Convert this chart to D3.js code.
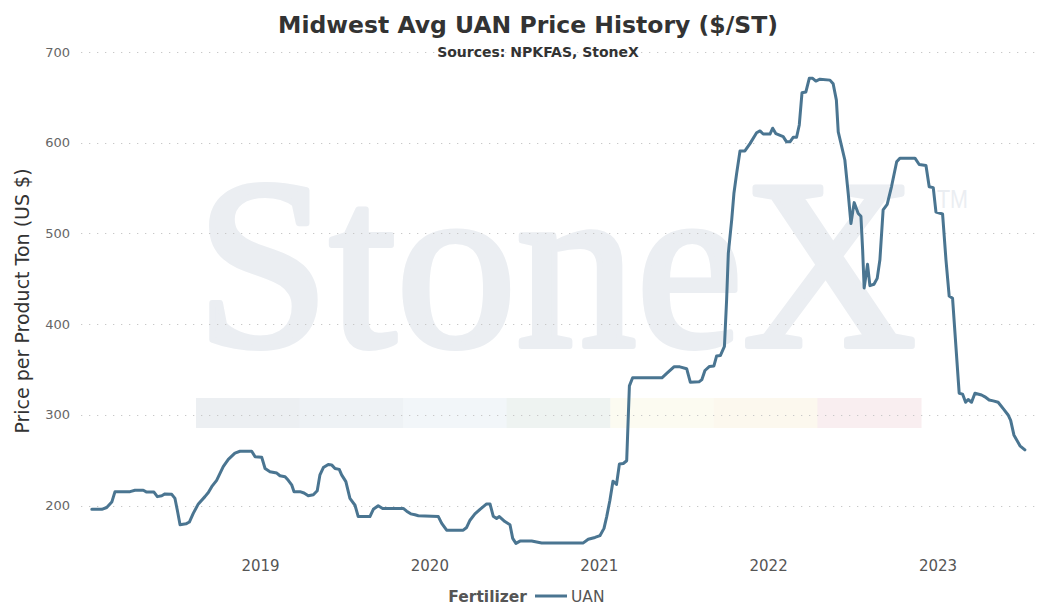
<!DOCTYPE html>
<html><head><meta charset="utf-8">
<script src="https://cdn.jsdelivr.net/npm/d3@7"></script>
<style>body{margin:0;background:#fff}svg{display:block}</style>
</head><body>
<svg id="c" width="1046" height="607"></svg>
<script>
// Time in decimal years, price in $/ST
const years = [2018.004,2018.063,2018.092,2018.122,2018.141,2018.230,2018.259,2018.308,2018.328,2018.371,2018.391,2018.417,2018.436,2018.476,2018.495,2018.509,2018.525,2018.560,2018.580,2018.603,2018.633,2018.672,2018.692,2018.712,2018.741,2018.780,2018.810,2018.849,2018.879,2018.948,2018.968,2019.007,2019.027,2019.056,2019.096,2019.115,2019.145,2019.164,2019.184,2019.198,2019.233,2019.257,2019.282,2019.312,2019.335,2019.351,2019.371,2019.400,2019.420,2019.440,2019.465,2019.479,2019.504,2019.528,2019.558,2019.577,2019.646,2019.666,2019.695,2019.721,2019.843,2019.863,2019.887,2019.912,2019.932,2020.050,2020.070,2020.099,2020.197,2020.217,2020.237,2020.266,2020.296,2020.335,2020.355,2020.374,2020.394,2020.410,2020.443,2020.473,2020.489,2020.508,2020.532,2020.601,2020.660,2020.906,2020.935,2020.975,2021.004,2021.028,2021.044,2021.063,2021.081,2021.102,2021.119,2021.142,2021.162,2021.178,2021.197,2021.370,2021.400,2021.441,2021.476,2021.516,2021.538,2021.589,2021.606,2021.624,2021.651,2021.677,2021.693,2021.715,2021.739,2021.752,2021.762,2021.782,2021.795,2021.811,2021.831,2021.860,2021.890,2021.929,2021.949,2021.968,2022.008,2022.024,2022.043,2022.086,2022.106,2022.126,2022.145,2022.165,2022.181,2022.197,2022.220,2022.240,2022.260,2022.279,2022.303,2022.362,2022.381,2022.400,2022.411,2022.450,2022.470,2022.486,2022.505,2022.529,2022.545,2022.555,2022.564,2022.584,2022.598,2022.622,2022.641,2022.657,2022.676,2022.700,2022.726,2022.756,2022.775,2022.864,2022.889,2022.929,2022.948,2022.972,2022.988,2023.027,2023.047,2023.066,2023.086,2023.125,2023.145,2023.163,2023.178,2023.198,2023.218,2023.257,2023.277,2023.302,2023.326,2023.355,2023.385,2023.414,2023.429,2023.448,2023.484,2023.513];
const uan = [196,196,198,204,215.5,215.5,217,217,215,215,210,211,213,212.5,208,195,179,180,182,191.5,202,210,214.5,221,228,243,251,258,260,260,254,253.5,241,237.5,236,233,232,228,223,215.5,215.5,214,211,212,216.5,234,242,245.5,245,241,240,234,226.5,208,200.5,188,188,196,200,197,197,194,191,190,189,188,180.5,173,173,176,184,191,196,202,202,188.5,186,188,182.5,179,164,158.5,161,161,159,159,163,165,167,175,188,206,227,223.5,246,246.5,249.5,332,341,341,346,353,353,351,336,336.5,339,349,353.5,354,365,365.5,375.5,427,478,515,544,566,591,591,599,611,613,609.6,609.6,616,610,606.7,601,601,606,606,619.6,655,656,671,671,668,670,669,665,647,612,581,544,511,534,522,519,482,440,466,442.5,444,450.5,471,526,532,552,579,583,583,576,575,551.5,550.5,523.5,521.5,471,431,428.5,324,323,314,317,314,324,322,320,316.5,315.5,314,307,300,294,278,266,261.5];
const yTicks = [200,300,400,500,600,700];
const xTicks = [2019,2020,2021,2022,2023];
const seriesName = "UAN";
const legendTitle = "Fertilizer";
const titleText = "Midwest Avg UAN Price History ($/ST)";
const subtitleText = "Sources: NPKFAS, StoneX";
const yTitle = "Price per Product Ton (US $)";
const watermark = "StoneX";
const watermarkMark = "TM";
const bandColors = ["#eceff2","#eef2f5","#f2f6f9","#eef3f1","#fcfbf1","#fcf8ee","#f9eef0"];

const svg = d3.select("#c");
const font = "'DejaVu Sans', Verdana, sans-serif";
const x = d3.scaleLinear().domain([2019, 2023]).range([260.5, 938]);
const y = d3.scaleLinear().domain([200, 700]).range([505.7, 52]);
const gridL = 81, gridR = 1040;

// watermark
const wm = svg.append("g");
const band = d3.scaleBand().domain(d3.range(bandColors.length)).range([196, 921]);
wm.selectAll("rect").data(bandColors).join("rect")
  .attr("x", (d,i)=>band(i)).attr("width", band.bandwidth()+0.5)
  .attr("y", 398).attr("height", 30).attr("fill", d=>d);
const wt = wm.append("text").attr("fill", "#ebeef2");
wt.append("tspan").attr("x", 196).attr("y", 346)
  .attr("font-family", "'Liberation Serif', 'Times New Roman', serif")
  .attr("font-size", 242).attr("stroke", "#ebeef2").attr("stroke-width", 6).attr("stroke-linejoin","round")
  .attr("textLength", 720).attr("lengthAdjust", "spacingAndGlyphs")
  .text(watermark);
wt.append("tspan").attr("x", 937).attr("y", 208)
  .attr("font-family", "'Liberation Sans', Arial, sans-serif").attr("font-size", 25)
  .attr("textLength", 31).attr("lengthAdjust", "spacingAndGlyphs")
  .text(watermarkMark);

// grid
svg.append("g").selectAll("line").data(yTicks).join("line")
  .attr("x1", gridL).attr("x2", gridR)
  .attr("y1", d=>Math.round(y(d))+0.5).attr("y2", d=>Math.round(y(d))+0.5)
  .attr("stroke", "#c8c8c8").attr("stroke-width", 1.2).attr("stroke-dasharray", "1.3,6.7");

// y axis labels
svg.append("g").selectAll("text").data(yTicks).join("text")
  .attr("x", 70).attr("y", d=>y(d)+4.5).attr("text-anchor","end")
  .attr("font-family", font).attr("font-size", 13).attr("fill", "#666")
  .text(d=>d);

// x axis labels
svg.append("g").selectAll("text").data(xTicks).join("text")
  .attr("x", d=>x(d)).attr("y", 571).attr("text-anchor","middle")
  .attr("font-family", font).attr("font-size", 15).attr("fill", "#555")
  .text(d=>d);

// line
const line = d3.line().x(d=>x(d[0])).y(d=>y(d[1])).curve(d3.curveLinear);
svg.append("path").datum(years.map((t,i)=>[t, uan[i]]))
  .attr("d", line).attr("fill","none").attr("stroke","#4a7591")
  .attr("stroke-width", 3).attr("stroke-linejoin","round").attr("stroke-linecap","round");

// titles
svg.append("text").attr("x", 528).attr("y", 33).attr("text-anchor","middle")
  .attr("font-family", font).attr("font-weight","bold").attr("font-size", 23.5).attr("fill","#333")
  .text(titleText);
svg.append("text").attr("x", 538).attr("y", 57).attr("text-anchor","middle")
  .attr("font-family", font).attr("font-weight","bold").attr("font-size", 14).attr("fill","#333")
  .text(subtitleText);
svg.append("text").attr("transform","translate(29,301) rotate(-90)").attr("text-anchor","middle")
  .attr("font-family", font).attr("font-size", 19).attr("fill","#333")
  .text(yTitle);

// legend
const lg = svg.append("g");
lg.append("text").attr("x", 527).attr("y", 602).attr("text-anchor","end")
  .attr("font-family", font).attr("font-weight","bold").attr("font-size", 15.5).attr("fill","#555")
  .text(legendTitle);
lg.append("line").attr("x1", 535).attr("x2", 567).attr("y1", 596).attr("y2", 596)
  .attr("stroke","#4a7591").attr("stroke-width", 3);
lg.append("text").attr("x", 571).attr("y", 602)
  .attr("font-family", font).attr("font-size", 15.5).attr("fill","#555")
  .text(seriesName);
</script>
</body></html>
